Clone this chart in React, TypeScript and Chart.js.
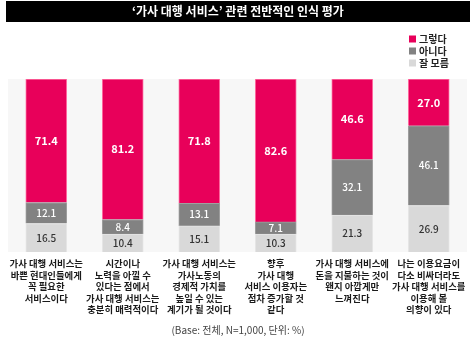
import React, { useEffect, useRef } from "react";
import { Chart, registerables } from "chart.js";

Chart.register(...registerables);

const TITLE = "‘가사 대행 서비스’ 관련 전반적인 인식 평가";
const FOOTNOTE = "(Base: 전체, N=1,000, 단위: %)";

const categories: string[][] = [
  ["가사 대행 서비스는", "바쁜 현대인들에게", "꼭 필요한", "서비스이다"],
  ["시간이나", "노력을 아낄 수", "있다는 점에서", "가사 대행 서비스는", "충분히 매력적이다"],
  ["가사 대행 서비스는", "가사노동의", "경제적 가치를", "높일 수 있는", "계기가 될 것이다"],
  ["향후", "가사 대행", "서비스 이용자는", "점차 증가할 것", "같다"],
  ["가사 대행 서비스에", "돈을 지불하는 것이", "왠지 아깝게만", "느껴진다"],
  ["나는 이용요금이", "다소 비싸더라도", "가사 대행 서비스를", "이용해 볼", "의향이 있다"],
];

const seriesNames = ["그렇다", "아니다", "잘 모름"];
const yesValues = [71.4, 81.2, 71.8, 82.6, 46.6, 27.0];
const noValues = [12.1, 8.4, 13.1, 7.1, 32.1, 46.1];
const unsureValues = [16.5, 10.4, 15.1, 10.3, 21.3, 26.9];

const FONT = "'Noto Sans CJK KR', 'Noto Sans', sans-serif";

const PINK = "#e8005a";
const GRAY = "#828282";
const LIGHT = "#d9d9d9";

export default function App() {
  const ref = useRef<HTMLCanvasElement | null>(null);

  useEffect(() => {
    if (!ref.current) return;

    const decor = {
      id: "decor",
      beforeDraw(chart: any) {
        const { ctx, chartArea } = chart;
        ctx.save();
        ctx.fillStyle = "#ffffff";
        ctx.fillRect(0, 0, chart.width, chart.height);
        ctx.fillStyle = "#f7f7f7";
        ctx.fillRect(chartArea.left, chartArea.top, chartArea.right - chartArea.left, chartArea.bottom - chartArea.top);
        ctx.fillStyle = "#000000";
        ctx.fillRect(6, 1, 464, 21);
        ctx.fillStyle = "#ffffff";
        ctx.font = `bold 12px ${FONT}`;
        ctx.textAlign = "center";
        ctx.textBaseline = "middle";
        ctx.fillText(TITLE, 238, 11.5);
        ctx.restore();
      },
      afterDraw(chart: any) {
        const { ctx } = chart;
        ctx.save();
        chart.data.datasets.forEach((ds: any, di: number) => {
          const meta = chart.getDatasetMeta(di);
          meta.data.forEach((bar: any, i: number) => {
            const v = ds.data[i];
            const y = (bar.y + bar.base) / 2;
            ctx.font = di === 2 ? `bold 11px ${FONT}` : `500 10px ${FONT}`;
            ctx.fillStyle = di === 0 ? "#333333" : "#ffffff";
            ctx.textAlign = "center";
            ctx.textBaseline = "middle";
            ctx.fillText(v.toFixed(1), bar.x, y);
          });
        });
        const order = [2, 1, 0];
        order.forEach((di, k) => {
          const ds = chart.data.datasets[di];
          const y = 39 + k * 12;
          ctx.fillStyle = ds.backgroundColor;
          ctx.fillRect(409, y - 3.5, 7, 7);
          ctx.fillStyle = "#222222";
          ctx.font = `bold 10px ${FONT}`;
          ctx.textAlign = "left";
          ctx.textBaseline = "middle";
          ctx.fillText(ds.label, 419, y);
        });
        ctx.fillStyle = "#444444";
        ctx.font = `10px ${FONT}`;
        ctx.textAlign = "center";
        ctx.textBaseline = "middle";
        ctx.fillText(FOOTNOTE, 238, 330);
        ctx.restore();
      },
    };

    const chart = new Chart(ref.current, {
      type: "bar",
      data: {
        labels: categories,
        datasets: [
          { label: seriesNames[2], data: unsureValues, backgroundColor: LIGHT, borderColor: "#e6e6e6", borderWidth: 1 },
          { label: seriesNames[1], data: noValues, backgroundColor: GRAY, borderColor: "#a0a0a0", borderWidth: 1 },
          { label: seriesNames[0], data: yesValues, backgroundColor: PINK, borderColor: "#ff6fa3", borderWidth: 1 },
        ],
      },
      options: {
        animation: false,
        responsive: false,
        maintainAspectRatio: false,
        devicePixelRatio: 1,
        layout: { padding: { top: 79, left: 8, right: 9, bottom: 0 } },
        datasets: { bar: { barThickness: 41 } },
        plugins: {
          legend: { display: false },
          title: { display: false },
          tooltip: { enabled: false },
        },
        scales: {
          x: {
            stacked: true,
            grid: { display: false, drawTicks: false },
            border: { display: false },
            ticks: {
              color: "#1a1a1a",
              font: { family: FONT, size: 9.4, weight: "bold", lineHeight: 1.22 },
              padding: 6,
              maxRotation: 0,
              autoSkip: false,
            },
            afterFit(scale: any) {
              scale.height = 90;
            },
          },
          y: {
            stacked: true,
            display: false,
            min: 0,
            max: 100,
          },
        },
      },
      plugins: [decor],
    } as any);

    return () => chart.destroy();
  }, []);

  return (
    <div style={{ position: "fixed", left: 0, top: 0, width: 476, height: 342, background: "#fff" }}>
      <canvas ref={ref} width={476} height={342} style={{ display: "block", width: 476, height: 342 }} />
    </div>
  );
}
